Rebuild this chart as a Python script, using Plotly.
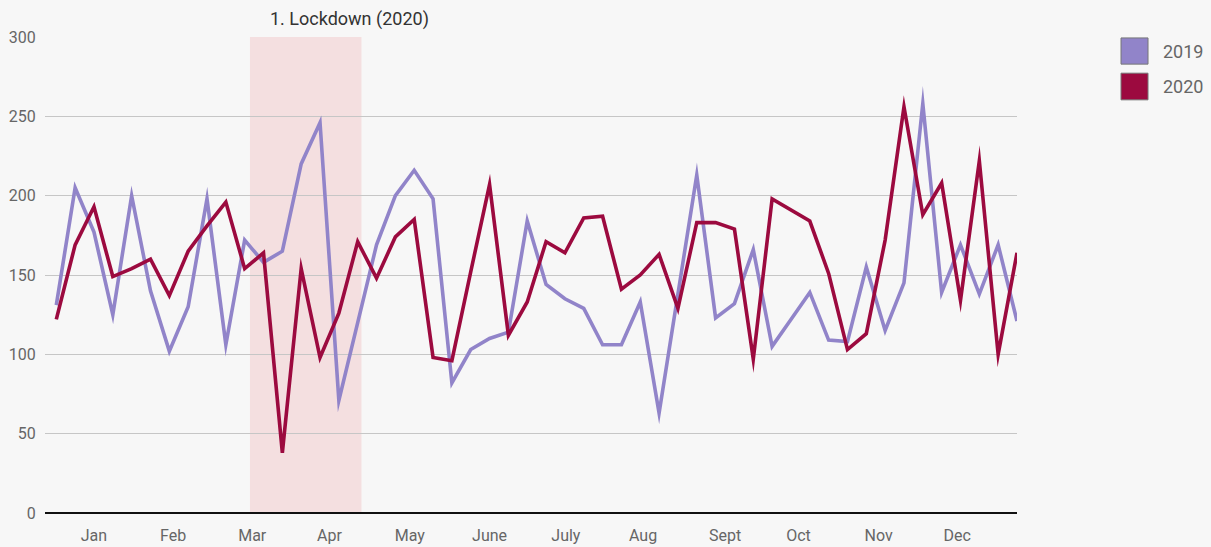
import plotly.graph_objects as go

weeks = list(range(52))

values_2019 = [131, 205, 177, 125, 200, 140, 102, 130, 198, 106,
               172, 158, 165, 220, 246, 71, 120, 169, 200, 216,
               198, 82, 103, 110, 114, 184, 144, 135, 129, 106,
               106, 133, 63, 137, 213, 123, 132, 166, 105, 122,
               139, 109, 108, 155, 115, 145, 258, 139, 169, 138,
               169, 121]

values_2020 = [122, 169, 193, 149, 154, 160, 137, 165, 181, 196,
               154, 164, 38, 154, 98, 126, 171, 148, 174, 185,
               98, 96, 152, 207, 112, 133, 171, 164, 186, 187,
               141, 150, 163, 129, 183, 183, 179, 97, 198, 191,
               184, 151, 103, 113, 172, 256, 188, 208, 134, 222,
               100, 164]

month_labels = ["Jan", "Feb", "Mar", "Apr", "May", "June", "July", "Aug",
                "Sept", "Oct", "Nov", "Dec"]
month_pos = [2.0, 6.2, 10.4, 14.5, 18.77, 23.0, 27.05, 31.15, 35.5, 39.4, 43.65, 47.83]

lockdown_start = 10.28
lockdown_end = 16.2
lockdown_label = "1. Lockdown (2020)"

series = [("2019", values_2019, "#9184C9"), ("2020", values_2020, "#9C0A3F")]

fig = go.Figure()
for name, vals, col in series:
    fig.add_trace(go.Scatter(x=weeks, y=vals, mode="lines", name=name,
                             line=dict(color=col, width=3.6), showlegend=False))

fig.add_shape(type="rect", xref="x", yref="paper", x0=lockdown_start, x1=lockdown_end,
              y0=0, y1=1, fillcolor="#F4DFE0", line=dict(width=0), layer="below")
fig.add_annotation(x=lockdown_start + 0.95, y=1, xref="x", yref="paper",
                   xanchor="left", yanchor="bottom", yshift=5, showarrow=False,
                   text=lockdown_label, font=dict(size=18, color="#333333"))

# manual square legend
leg_y = [(0.998, 0.943), (0.924, 0.868)]
for (name, vals, col), (ytop, ybot) in zip(series, leg_y):
    fig.add_shape(type="rect", xref="paper", yref="paper", x0=1.107, x1=1.1348,
                  y0=ybot, y1=ytop, fillcolor=col, line=dict(color="#777777", width=1))
    fig.add_annotation(x=1.148, y=(ytop + ybot) / 2, xref="paper", yref="paper",
                       xanchor="left", yanchor="middle", showarrow=False, text=name,
                       font=dict(size=18, color="#666666"))

fig.update_layout(
    width=1211, height=547,
    margin=dict(l=45, r=194, t=37, b=34),
    paper_bgcolor="#F7F7F7", plot_bgcolor="#F7F7F7",
    font=dict(family="Roboto, Inter, sans-serif", color="#666666", size=15),
    hovermode=False,
)
fig.update_xaxes(range=[-0.6, 51], tickvals=month_pos, ticktext=month_labels,
                 showgrid=False, zeroline=False, showline=False, automargin=False,
                 ticks="outside", ticklen=8, tickcolor="rgba(0,0,0,0)",
                 tickfont=dict(size=16, color="#666666"))
fig.update_yaxes(range=[0, 300], dtick=50, showgrid=True, gridcolor="#C6C6C6", gridwidth=1,
                 zeroline=True, zerolinecolor="#111111", zerolinewidth=1.5, automargin=False,
                 ticks="outside", ticklen=5, tickcolor="rgba(0,0,0,0)",
                 tickfont=dict(size=16, color="#666666"))

post = ("document.body.style.margin='0';document.body.style.background='#F7F7F7';"
        "document.querySelectorAll('.js-line').forEach(function(p){"
        "p.style.strokeLinejoin='miter';p.style.strokeMiterlimit='10';});")

fig.write_html("out.html", config={"displayModeBar": False}, post_script=post)
